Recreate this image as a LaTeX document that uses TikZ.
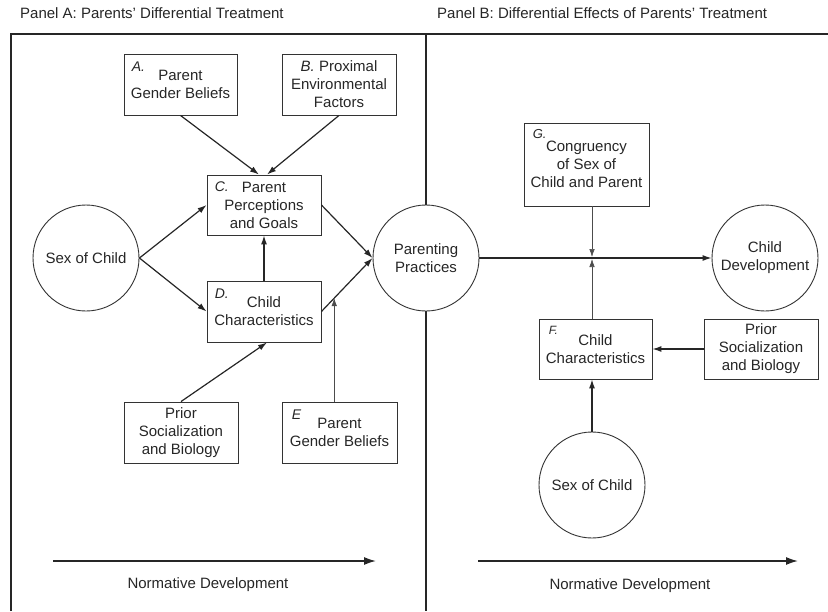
\documentclass[tikz,border=0pt]{standalone}
\usepackage{fontspec}
\setmainfont{Liberation Sans}
\usetikzlibrary{arrows.meta,calc}
\begin{document}
\begin{tikzpicture}[x=1pt,y=-1pt,
  txt/.style={font=\fontsize{15}{18}\selectfont, text=black!85, align=center, inner sep=0pt},
  box/.style={txt, draw=black!80, line width=0.9pt, rectangle},
  circ/.style={txt, draw=black!80, line width=0.9pt, circle, minimum size=106pt, fill=white},
  lbl/.style={font=\fontsize{14}{16}\selectfont\itshape, text=black!85, inner sep=0pt, anchor=base west},
  arr/.style={line width=1.2pt, draw=black!85, -{Latex[length=9pt,width=6pt]}},
  thinarr/.style={line width=0.6pt, draw=black!70, -{Latex[length=8pt,width=5.5pt]}},
  normarr/.style={line width=1.5pt, draw=black!85, -{Latex[length=12pt,width=8pt]}},
  frame/.style={line width=1.8pt, draw=black!85},
]
\useasboundingbox (0,0) rectangle (828,611);
% titles
\node[txt, anchor=base west] (tA) at (20,18.5) {Panel A: Parents' Differential Treatment};
\node[txt, anchor=base west] (tB) at (437,18.5) {Panel B: Differential Effects of Parents' Treatment};
% frame
\draw[frame] (11,611) -- (11,34) -- (828,34);
\draw[frame] (426,34) -- (426,611);

% Panel A nodes
\node[box, minimum width=113pt, minimum height=61pt] (A) at (180.5,84.5) {Parent\\Gender Beliefs};
\node[box, minimum width=114pt, minimum height=61pt] (B) at (339,84.5) {\textit{B.} Proximal\\Environmental\\Factors};
\node[box, minimum width=114pt, minimum height=60pt] (C) at (264,205) {Parent\\Perceptions\\and Goals};
\node[box, minimum width=114pt, minimum height=61pt] (D) at (264,311.5) {Child\\Characteristics};
\node[box, minimum width=114pt, minimum height=61pt] (PL) at (181,432.5) {Prior\\Socialization\\and Biology};
\node[box, minimum width=115pt, minimum height=61pt] (E) at (339.5,432.5) {Parent\\Gender Beliefs};
\node[circ] (SL) at (86,258) {Sex of Child};
\node[circ] (PP) at (426,258) {Parenting\\Practices};

\node[lbl] (lA) at ([xshift=8pt,yshift=-18pt]A.north west) {A.};
\node[lbl] (lC) at ([xshift=8pt,yshift=-17pt]C.north west) {C.};
\node[lbl] (lD) at ([xshift=8pt,yshift=-18pt]D.north west) {D.};
\node[lbl] (lE) at ([xshift=10pt,yshift=-18pt]E.north west) {E};

% Panel A connectors
\draw[arr] (A.south) -- ([xshift=-5pt]C.north);
\draw[arr] (B.south) -- ([xshift=3pt]C.north);
\draw[arr] (SL.east) -- (C.west);
\draw[arr] (SL.east) -- (D.west);
\draw[arr] (D.north) -- (C.south);
\draw[arr] (C.east) -- (PP.west);
\draw[arr] (D.east) -- (PP.west);
\draw[arr] (PL.north) -- ([xshift=3pt]D.south);
\coordinate (M) at ($(D.east)!0.25!(PP.west)$);
\draw[thinarr] (E.north -| M) -- (M);

% Panel B nodes
\node[box, minimum width=125pt, minimum height=83pt] (G) at (586.5,164.5) {Congruency\\of Sex of\\Child and Parent};
\node[box, minimum width=113pt, minimum height=60pt] (F) at (595.5,349) {Child\\Characteristics};
\node[box, minimum width=114pt, minimum height=60pt] (PR) at (761,349) {Prior\\Socialization\\and Biology};
\node[circ] (CD) at (765,258) {Child\\Development};
\node[circ] (SR) at (592,485) {Sex of Child};

\node[lbl, font=\fontsize{13}{15}\selectfont\itshape] (lG) at ([xshift=9pt,yshift=-16pt]G.north west) {G.};
\node[lbl, font=\fontsize{12}{14}\selectfont\itshape] (lF) at ([xshift=10pt,yshift=-16pt]F.north west) {F.};

% Panel B connectors
\draw[arr] (PP.east) -- (CD.west);
\coordinate (X) at (592,258);
\draw[thinarr] (X |- G.south) -- ([yshift=1pt]X);
\draw[thinarr] (X |- F.north) -- ([yshift=-1pt]X);
\draw[arr] (PR.west) -- (F.east);
\draw[arr] (SR.north) -- (SR.north |- F.south);

% normative development
\coordinate (NL1) at (53,561);
\coordinate (NL2) at (376,561);
\coordinate (NR1) at (478,561);
\coordinate (NR2) at (798,561);
\draw[normarr] (NL1) -- (NL2);
\draw[normarr] (NR1) -- (NR2);
\node[txt] (nL) at (208,585) {Normative Development};
\node[txt] (nR) at (630,586) {Normative Development};
\end{tikzpicture}
\end{document}
